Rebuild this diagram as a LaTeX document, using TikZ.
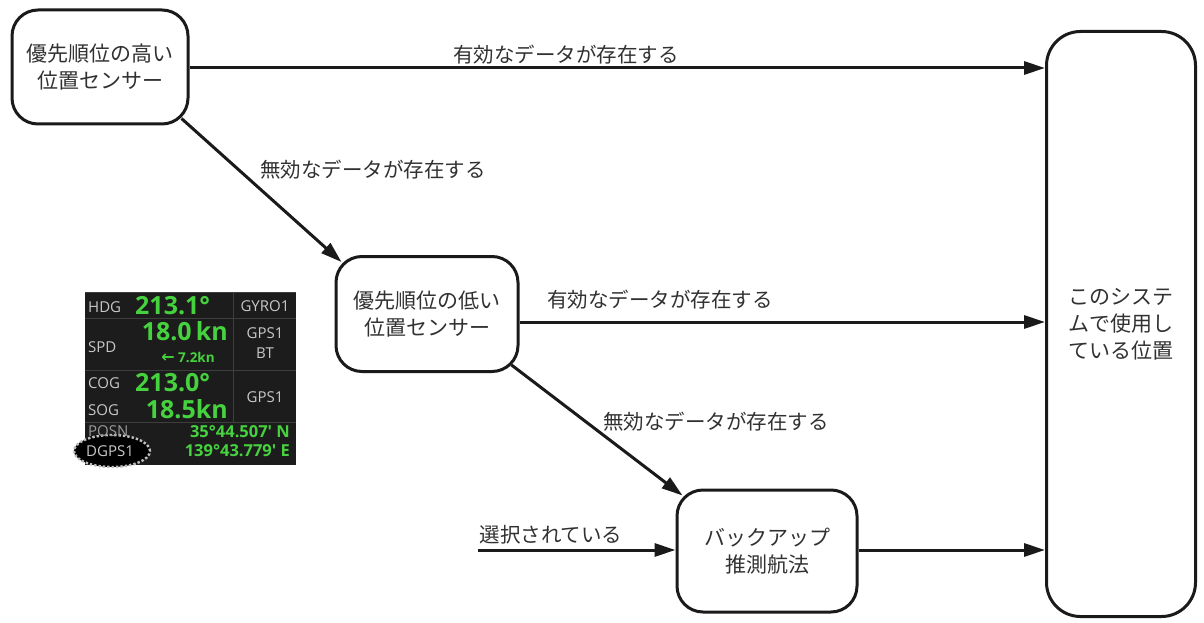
\documentclass[tikz,border=0pt]{standalone}
\usepackage{fontspec}
\setmainfont{Noto Sans CJK JP}
\newfontfamily\panelfont{Open Sans}
\newfontfamily\arrfont{DejaVu Sans}
\usetikzlibrary{arrows.meta,calc,shapes.geometric}
\definecolor{panelbg}{HTML}{1C1C1C}
\definecolor{panelsep}{HTML}{3E3E3E}
\definecolor{lcdgreen}{HTML}{46D23E}
\definecolor{lcdgray}{HTML}{C8C8C8}
\definecolor{ink}{HTML}{1A1A1A}
\tikzset{
  box/.style={draw=ink, line width=3pt, rounded corners=26pt, align=center,
    font=\fontsize{21}{27}\selectfont, text=ink!90, inner sep=0pt},
  flow/.style={draw=ink, line width=3pt, -{Triangle[length=21pt,width=13pt]}},
  lbl/.style={font=\fontsize{20.5}{24}\selectfont, text=ink!90, inner sep=0pt},
  gtxt/.style={text=lcdgray, font=\panelfont\fontsize{15}{15}\selectfont, inner sep=0pt},
  big/.style={text=lcdgreen, font=\panelfont\bfseries\fontsize{25}{25}\selectfont, inner sep=0pt},
  mid/.style={text=lcdgreen, font=\panelfont\bfseries\fontsize{16.5}{16.5}\selectfont, inner sep=0pt},
}
\begin{document}
\begin{tikzpicture}[x=1pt,y=-1pt]
\useasboundingbox (0,0) rectangle (1204,623);

% flow boxes
\node[box, minimum width=176pt, minimum height=114pt] (b1) at (100,67) {優先順位の高い\\位置センサー};
\node[box, minimum width=182pt, minimum height=115pt] (b2) at (427,314) {優先順位の低い\\位置センサー};
\node[box, minimum width=180pt, minimum height=122pt] (b3) at (767,551) {バックアップ\\推測航法};
\node[box, rounded corners=34pt, minimum width=149pt, minimum height=585pt] (pos) at (1121,324) {このシステ\\ムで使用し\\ている位置};

% connectors
\draw[flow] (b1.east |- 0,68) -- (pos.west |- 0,68);
\draw[flow] (b2.east |- 0,322) -- (pos.west |- 0,322);
\draw[flow] (b3.east |- 0,550) -- (pos.west |- 0,550);
\coordinate (sel) at (478,550);
\draw[flow] (sel) -- (b3.west |- sel);
\draw[flow] ($(b1.south east)+(-8,-7)$) -- ($(b2.north west)+(7,7)$);
\draw[flow] ($(b2.south east)+(-8,-8)$) -- ($(b3.north west)+(7,7)$);

% labels
\node[lbl] (l1) at (566,55) {有効なデータが存在する};
\node[lbl] (l2) at (373,170) {無効なデータが存在する};
\node[lbl] (l3) at (660,300) {有効なデータが存在する};
\node[lbl] (l4) at (716,422) {無効なデータが存在する};
\node[lbl] (l5) at (551,535) {選択されている};

% display panel
\node[fill=panelbg, minimum width=211pt, minimum height=173pt, inner sep=0pt, anchor=north west] (panel) at (85,292) {};
\draw[panelsep, line width=1pt] (85,292.5) -- (296,292.5);
\draw[panelsep, line width=1pt] (85,318) -- (296,318);
\draw[panelsep, line width=1pt] (85,370) -- (296,370);
\draw[panelsep, line width=1pt] (85,422) -- (296,422);
\draw[panelsep, line width=1pt] (233,292) -- (233,422);
\node[ellipse, fill=black, draw=gray!50, dotted, line width=2.4pt, minimum width=76pt, minimum height=32pt, inner sep=0pt] (ring) at (112,451) {};

\node[gtxt, anchor=west] (hdg) at (88,307) {HDG};
\node[gtxt] (gyro) at (265,306) {GYRO1};
\node[gtxt, anchor=west] (spd) at (88,347) {SPD};
\node[gtxt] (gps1a) at (265,333) {GPS1};
\node[gtxt] (bt) at (265,353) {BT};
\node[gtxt, anchor=west] (cog) at (88,383) {COG};
\node[gtxt, anchor=west] (sog) at (88,410) {SOG};
\node[gtxt] (gps1b) at (265,397) {GPS1};
\node[gtxt, anchor=west, text=gray!80] (posn) at (88,431) {POSN};
\node[gtxt, anchor=west] (dgps) at (86,451) {DGPS1};

\node[big, anchor=west] (hdgv) at (135,306) {213.1°};
\node[big, anchor=east] (spdv) at (228,331) {18.0\,kn};
\node[text=lcdgreen, inner sep=0pt, font=\panelfont\bfseries\fontsize{13.5}{13.5}\selectfont] (drift) at (188,357) {{\arrfont\bfseries\fontsize{16}{16}\selectfont ←}\ 7.2kn};
\node[big, anchor=west] (cogv) at (135,383) {213.0°};
\node[big, anchor=east] (sogv) at (228,409) {18.5kn};
\node[mid, anchor=east] (lat) at (290,432) {35°44.507' N};
\node[mid, anchor=east] (lon) at (290,451) {139°43.779' E};
\end{tikzpicture}
\end{document}
